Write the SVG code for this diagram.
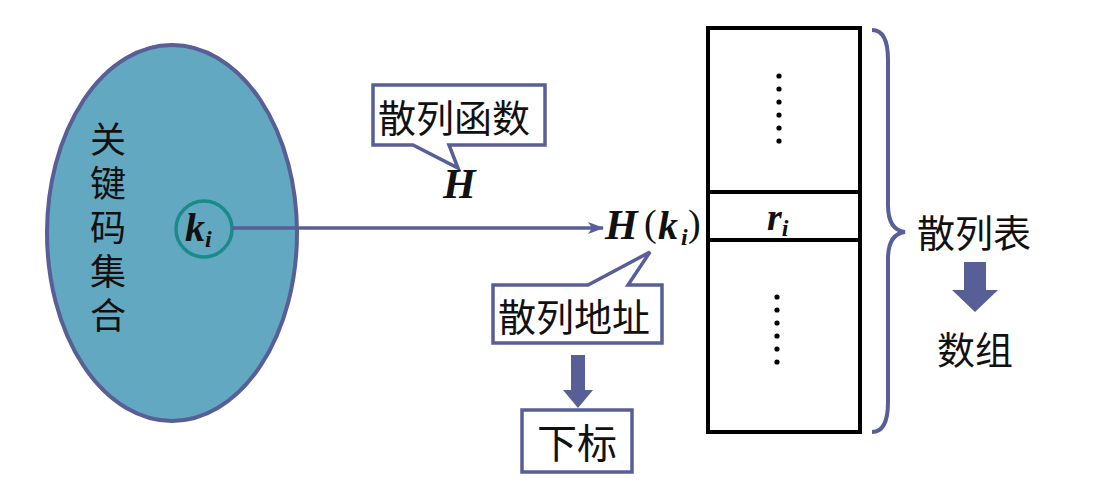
<svg xmlns="http://www.w3.org/2000/svg" width="1102" height="494" viewBox="0 0 1102 494">
<defs>
<style>
.cjk{font-family:"Noto Sans CJK SC","Noto Sans",sans-serif;fill:#111;}
.math{font-family:"Liberation Serif","Times New Roman",serif;font-weight:bold;font-style:italic;fill:#111;}
.mathr{font-family:"Liberation Serif","Times New Roman",serif;fill:#111;}
.callout{fill:#fff;stroke:#585e96;stroke-width:3.5;stroke-linejoin:miter;}
.block{fill:#585e96;}
.vert{writing-mode:vertical-rl;text-orientation:upright;letter-spacing:8px;}
</style>
<marker id="ah" markerWidth="16" markerHeight="12" refX="15" refY="6" orient="auto" markerUnits="userSpaceOnUse">
<path d="M0,0 L16,6 L0,12 L4,6 Z" fill="#585e96"/>
</marker>
</defs>
<rect width="1102" height="494" fill="#fff"/>

<g id="keyset">
<ellipse cx="172" cy="233" rx="125" ry="188" fill="#63a8c1" stroke="#585e96" stroke-width="4"/>
<text class="cjk vert" font-size="36" x="108" y="121">关键码集合</text>
</g>

<g id="ki">
<circle cx="204" cy="229" r="28" fill="#63a8c1" stroke="#1a8a8a" stroke-width="3.5"/>
<text class="math" font-size="40" x="185" y="241">k<tspan font-size="24" dy="6">i</tspan></text>
</g>

<g id="connectors">
<line x1="232" y1="228" x2="603" y2="228" stroke="#585e96" stroke-width="3.5" marker-end="url(#ah)"/>
</g>

<g id="hashfunc">
<path class="callout" d="M373,85 H545 V145 H449 L458,168 L413,145 H373 Z"/>
<text class="cjk" font-size="38" x="378" y="132">散列函数</text>
<text class="math" font-size="42" x="443" y="198">H</text>
</g>

<g id="hk">
<text class="math" font-size="42" x="605" y="239">H</text>
<text class="mathr" font-size="38" x="644" y="236">(</text>
<text class="math" font-size="40" x="658" y="239">k</text>
<text class="math" font-size="24" x="681" y="245">i</text>
<text class="mathr" font-size="38" x="688" y="236">)</text>
</g>

<g id="hashaddr">
<path class="callout" d="M493,285 H588 L650,252 L628,285 H662 V343 H493 Z"/>
<text class="cjk" font-size="38" x="498" y="331">散列地址</text>
</g>

<g id="arrow1">
<path class="block" d="M571,355 H585 V390 H593 L578,408 L563,390 H571 Z"/>
</g>

<g id="subscript">
<rect class="callout" x="522" y="410" width="110" height="62"/>
<text class="cjk" font-size="40" x="537" y="458">下标</text>
</g>

<g id="table">
<rect x="708" y="28" width="152" height="404" fill="#fff" stroke="#000" stroke-width="4"/>
<line x1="708" y1="192" x2="860" y2="192" stroke="#000" stroke-width="4"/>
<line x1="708" y1="240" x2="860" y2="240" stroke="#000" stroke-width="4"/>
<g fill="#000">
<circle cx="779" cy="76" r="2.6"/><circle cx="779" cy="89" r="2.6"/><circle cx="779" cy="102" r="2.6"/><circle cx="779" cy="115" r="2.6"/><circle cx="779" cy="128" r="2.6"/><circle cx="779" cy="141" r="2.6"/>
<circle cx="777" cy="297" r="2.6"/><circle cx="777" cy="310" r="2.6"/><circle cx="777" cy="323" r="2.6"/><circle cx="777" cy="336" r="2.6"/><circle cx="777" cy="349" r="2.6"/><circle cx="777" cy="362" r="2.6"/>
</g>
<text class="math" font-size="38" x="767" y="230">r<tspan font-size="24" dy="6">i</tspan></text>
</g>

<g id="brace">
<path d="M872,30 Q888,30 888,60 V205 Q888,230 905,232 Q888,234 888,259 V402 Q888,432 872,432" fill="none" stroke="#585e96" stroke-width="4"/>
</g>

<g id="hashtable">
<text class="cjk" font-size="38" x="917" y="247">散列表</text>
</g>

<g id="arrow2">
<path class="block" d="M964,262 H986 V290 H998 L975,312 L952,290 H964 Z"/>
</g>

<g id="array">
<text class="cjk" font-size="38" x="937" y="364">数组</text>
</g>
</svg>
